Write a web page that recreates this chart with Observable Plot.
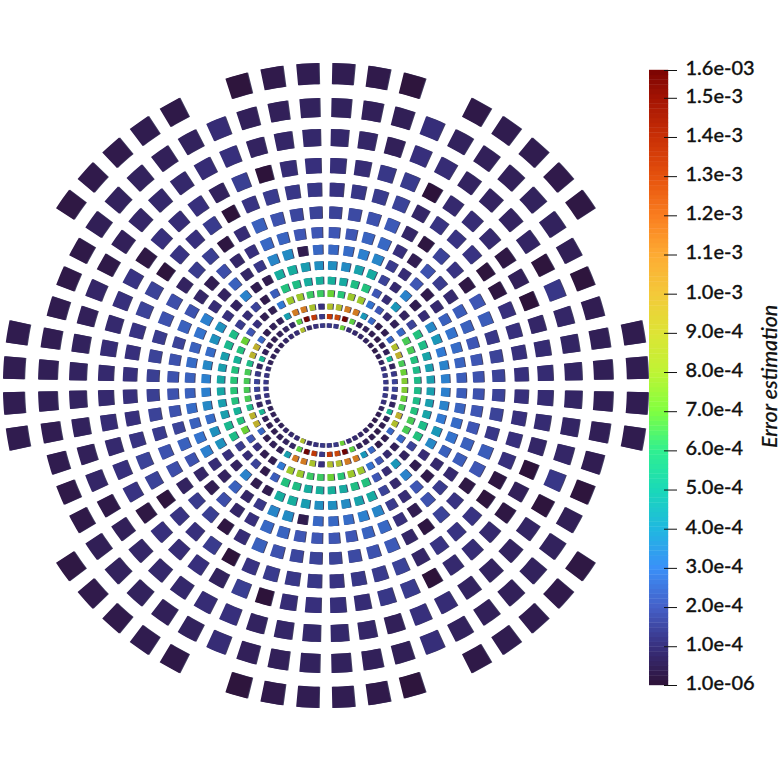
<!DOCTYPE html>
<html><head><meta charset="utf-8">
<script src="https://cdn.jsdelivr.net/npm/d3@7"></script>
<script src="https://cdn.jsdelivr.net/npm/@observablehq/plot@0.6"></script>
<style>
html,body{margin:0;padding:0;background:#fff}
#wrap{display:flex;width:782px;height:782px}
svg{display:block}
</style></head><body><div id="wrap"></div>
<script>
// Error estimation per cell, unit 1e-4, upper half of the mesh (mirrored across the horizontal axis),
// sector 0 = just above the left axis, clockwise to sector 27 = just above the right axis.
const ring0  = [1.2,1.1,0.9,0.5,0.5,0.5,0.5,0.7,0.8,0.9,8.8,0.7,1.0,1.2, 1.2,1.2,7.0,0.9,0.8,0.7,0.6,0.4,0.3,0.4,0.6,1.0,1.2,1.2];
const ring1  = [1.5,1.2,0.6,5.2,0.5,0.4,0.4,0.5,0.6,0.7,6.8,15.7,13.5,1.2, 13.5,13,15.7,6.8,0.5,0.5,0.4,0.3,0.4,0.5,5.2,0.6,1.2,1.5];
const ring2  = [6.5,6.5,5.5,9.3,9.5,2.5,0.4,0.5,0.5,4.3,11.5,11.5,8.5,1.0, 8.8,8.8,11.5,11.5,4.0,2.5,0.3,0.4,2.5,8.8,9.5,6.5,7.0,7.5];
const ring3  = [6.0,5.8,5.0,5.8,7.0,2.0,1.0,0.4,0.4,3.0,8.0,8.0,6.3,6.3, 7.0,6.0,8.0,8.0,2.8,2.0,0.8,0.5,2.5,6.5,6.5,5.8,5.5,5.5];
const ring4  = [4.6,4.3,4.3,5.3,5.5,1.3,0.9,1.5,0.3,2.2,5.8,5.6,4.8,4.9, 4.9,4.7,5.6,5.8,2.0,0.9,4.0,0.6,1.5,5.8,5.5,4.5,4.3,4.3];
const ring5  = [3.2,3.5,2.6,3.8,3.8,1.0,0.6,3.3,0.35,0.35,4.8,4.8,4.2,3.7, 3.7,3.6,4.4,4.7,1.5,0.8,3.3,0.35,0.9,3.5,4.0,3.0,3.3,3.2];
const ring6  = [2.3,2.6,2.3,2.8,3.2,0.9,0.6,2.3,0.7,1.2,3.4,3.6,0.35,2.5, 2.5,2.6,3.2,3.4,1.3,0.9,2.0,0.3,0.8,2.3,2.8,2.6,2.4,2.2];
const ring7  = [1.9,1.9,1.5,2.3,1.9,0.7,0.4,1.8,0.7,1.0,2.5,2.4,2.0,2.0, 2.0,2.0,2.4,2.5,1.0,0.4,1.9,1.3,0.8,2.2,2.3,2.0,2.0,1.9];
const ring8  = [1.4,1.5,1.3,1.9,1.8,0.6,1.3,1.4,0.15,0.9,2.3,1.9,1.6,1.5, 1.5,1.7,1.9,2.1,0.7,0.15,1.5,1.1,0.2,2.0,2.2,1.2,1.5,1.5];
const ring9  = [1.0,1.0,1.1,1.5,1.5,0.1,1.1,1.0,1.3,0.05,1.1,1.3,1.2,1.2, 1.1,1.2,1.3,1.5,0.7,1.1,1.1,1.1,0.1,0.15,1.0,1.0,1.0,1.0];
const ring10 = [0.8,0.9,0.8,1.0,1.1,0.2,1.0,0.9,1.0,0.55,1.4,0.05,0.9,1.0, 0.95,0.9,1.2,1.3,0.05,0.8,0.9,0.8,0.2,0.5,0.05,0.7,0.85,0.85];
const ring11 = [0.6,0.55,0.5,0.7,0.25,0.5,0.7,0.75,0.75,0.9,1.0,0.6,0.7,0.75, 0.75,0.7,0.5,1.0,0.9,0.6,0.6,0.6,0.65,0.1,1.2,0.7,0.65,0.65];
const ring12 = [0.45,0.4,0.35,0.25,0.25,0.45,0.55,0.55,0.5,0.55,0.9,0.5,0.5,0.55, 0.55,0.5,0.45,0.95,0.55,0.5,0.5,0.55,0.55,0.45,0.1,0.4,0.45,0.45];
const ring13 = [0.4,0.35,null,null,null,0.2,0.3,0.3,0.35,0.25,null,0.1,0.3,0.4, 0.4,0.3,0.1,null,0.25,0.35,0.35,0.3,0.2,null,null,null,0.35,0.4];
const rings = [ring0,ring1,ring2,ring3,ring4,ring5,ring6,ring7,ring8,ring9,ring10,ring11,ring12,ring13];
const ringRadius = [60,69,79,92,105,120,136,153,173,196,220,248,278,312];
const sectorCount = 56;

const colorbarTicks = [0.01,1,2,3,4,5,6,7,8,9,10,11,12,13,14,15,15.71];
const colorbarLabels = ["1.0e-06","1.0e-4","2.0e-4","3.0e-4","4.0e-4","5.0e-4","6.0e-4","7.0e-4","8.0e-4","9.0e-4","1.0e-3","1.1e-3","1.2e-3","1.3e-3","1.4e-3","1.5e-3","1.6e-03"];
const colorStops = ["#2e1238","#38307f","#4560c8","#3a90f8","#20b8e0","#1ad9b8","#30f090","#80ff40","#bff434","#dde435","#f4c93a","#fdab33","#fa7d1f","#e5510d","#c93006","#a31303","#7a0403"];
const stopValues = [0.01,1,2,3,4,5,6,7,8,9,10,11,12,13,14,15,15.71];
const meshShades = [0.98,0.98,0.9,0.85,0.82,0.82,0.82,0.82,0.82,0.82,0.82,0.82,0.85,0.88,0.9,0.9,0.9];
const shaded = colorStops.map((c,i)=>{const q=d3.rgb(c),s=meshShades[i];return d3.rgb(q.r*s,q.g*s,q.b*s).formatHex();});

const cells=[];
rings.forEach((vals,r)=>{
  const R=ringRadius[r], f=r/13, dR=(0.037-0.003*f)*R, dA=0.036-0.001*f;
  vals.forEach((v,k)=>{
    if(v==null) return;
    const a=Math.PI-(k+0.5)*2*Math.PI/sectorCount;
    const pts=[];
    for(let t=-1;t<=1;t+=0.5) pts.push([R+dR,a+t*dA]);
    for(let t=1;t>=-1;t-=0.5) pts.push([R-dR,a+t*dA]);
    for(const side of [1,-1]){
      const id=`${r}-${k}-${side}`;
      for(const [rr,aa] of pts) cells.push({id,v,x:rr*Math.cos(aa),y:side*rr*Math.sin(aa)});
    }
  });
});

const mesh=Plot.plot({
  width:649,height:782,margin:0,
  x:{domain:[-325,324],range:[0,649],axis:null},
  y:{domain:[385,-397],range:[0,782],axis:null},
  color:{type:"linear",domain:stopValues,range:shaded,interpolate:"rgb"},
  marks:[
    Plot.line(cells,{x:"x",y:"y",z:"id",fill:"#16123c",fillOpacity:0.8,stroke:"none",dx:1,curve:"linear-closed"}),
    Plot.line(cells,{x:"x",y:"y",z:"id",fill:"v",stroke:"none",curve:"linear-closed"})
  ]
});

const strips=d3.range(128).map(i=>{
  const lo=0.01,hi=15.71,s=(hi-lo)/128;
  return {y1:lo+i*s,y2:lo+(i+1)*s,v:lo+(i+0.5)*s};
});
const ticks=colorbarTicks.map((v,i)=>({v,label:colorbarLabels[i]}));
const bar=Plot.plot({
  width:133,height:782,margin:0,
  x:{domain:[0,133],range:[0,133],axis:null},
  y:{domain:[0.01,15.71],range:[685,70],axis:null},
  color:{type:"linear",domain:stopValues,range:colorStops,interpolate:"rgb"},
  style:{fontFamily:"Lato"},
  marks:[
    Plot.rect(strips,{x1:()=>0,x2:()=>19,y1:"y1",y2:"y2",fill:"v",inset:-0.2}),
    Plot.ruleY(ticks,{y:"v",x1:()=>15,x2:()=>28,stroke:"#111",strokeWidth:1}),
    Plot.text(ticks,{x:()=>36,y:"v",text:"label",textAnchor:"start",dy:-2,fontSize:20,fontWeight:500,fill:"#111",stroke:"#111",strokeWidth:0.3}),
    Plot.text(["Error estimation"],{x:()=>121,y:()=>7.9,rotate:-90,fontSize:21.5,fontStyle:"italic",fontWeight:500,fill:"#111",stroke:"#111",strokeWidth:0.2})
  ]
});
const wrap=document.getElementById("wrap");
wrap.append(mesh,bar);
</script></body></html>
